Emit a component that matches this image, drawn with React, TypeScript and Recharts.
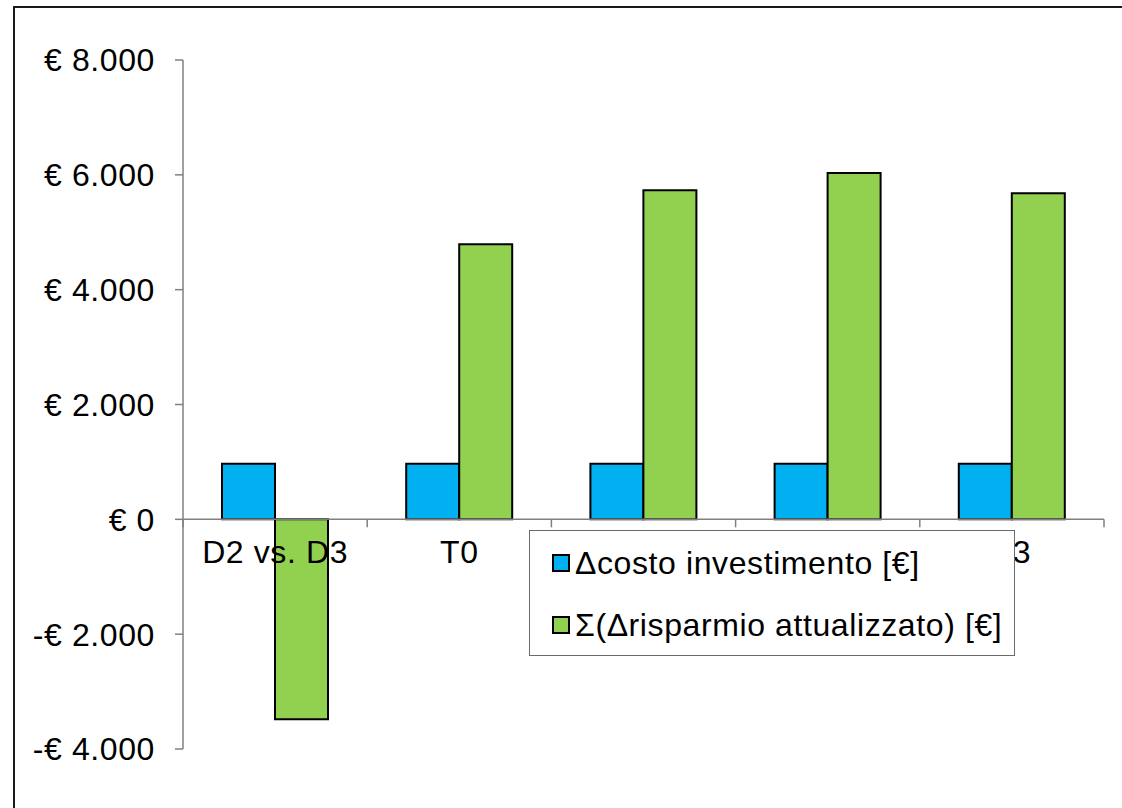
import { BarChart, Bar, XAxis, YAxis, ReferenceLine, Legend } from 'recharts';

const categories = ['D2 vs. D3', 'T0', 'T1', 'T2', 'T3'];
const costoInvestimento = [970, 970, 970, 970, 970];
const risparmioAttualizzato = [-3480, 4790, 5730, 6030, 5680];
const yTicks = [-4000, -2000, 0, 2000, 4000, 6000, 8000];

const seriesNames = ['\u0394costo investimento [\u20ac]', '\u03a3(\u0394risparmio attualizzato) [\u20ac]'];
const seriesColors = ['#00B0F0', '#92D050'];

const data = categories.map((name, i) => ({
  name,
  costo: costoInvestimento[i],
  risparmio: risparmioAttualizzato[i],
}));

const W = 1122;
const H = 808;
const M = { top: 60, right: 18, bottom: 58, left: 0 };
const Y_AXIS_W = 183;
const DOMAIN: [number, number] = [-4000, 8000];
const PLOT_H = H - M.top - M.bottom - 1;
const PLOT_W = W - M.left - M.right - Y_AXIS_W;
const BAND = PLOT_W / categories.length;
const ZERO_Y = M.top + (PLOT_H * DOMAIN[1]) / (DOMAIN[1] - DOMAIN[0]);

const FONT = '"Liberation Sans", Arial, sans-serif';
const FS = 32;
const LS = 0.6;

const fmtEuro = (v: number) => {
  const s = Math.abs(v).toString().replace(/\B(?=(\d{3})+(?!\d))/g, '.');
  return v < 0 ? `-\u20ac ${s}` : `\u20ac ${s}`;
};

const CategoryTick = (props: any) => {
  const { x, payload, index } = props;
  const last = index === categories.length - 1;
  return (
    <g>
      <line x1={x - BAND / 2} x2={x - BAND / 2} y1={ZERO_Y} y2={ZERO_Y + 8} stroke="#808080" strokeWidth={1.5} />
      {last && <line x1={x + BAND / 2} x2={x + BAND / 2} y1={ZERO_Y} y2={ZERO_Y + 8} stroke="#808080" strokeWidth={1.5} />}
      <text x={x} y={ZERO_Y + 44} textAnchor="middle" fontSize={FS} letterSpacing={LS} fontFamily={FONT} fill="#000">
        {payload.value}
      </text>
    </g>
  );
};

const LegendBox = () => (
  <div
    style={{
      width: 486,
      height: 126,
      border: '1.5px solid #6a6a6a',
      background: '#fff',
      boxSizing: 'border-box',
      fontFamily: FONT,
      fontSize: FS,
      letterSpacing: LS,
      color: '#000',
      paddingTop: 14,
      paddingLeft: 22,
    }}
  >
    {seriesNames.map((n, i) => (
      <div key={n} style={{ display: 'flex', alignItems: 'center', height: 36, marginBottom: i === 0 ? 26 : 0 }}>
        <span
          style={{
            display: 'inline-block',
            width: 14,
            height: 14,
            background: seriesColors[i],
            border: '2px solid #000',
            marginRight: 5,
          }}
        />
        <span style={{ whiteSpace: 'nowrap' }}>{n}</span>
      </div>
    ))}
  </div>
);

export default function App() {
  return (
    <div style={{ position: 'fixed', left: 0, top: 0, width: W, height: H, overflow: 'hidden', background: '#fff' }}>
      <div
        style={{
          position: 'absolute',
          left: 13,
          top: 6,
          width: 1300,
          height: 1000,
          border: '2px solid #1a1a1a',
        }}
      />
      <div style={{ position: 'absolute', left: 0, top: 0 }}>
        <BarChart width={W} height={H} data={data} margin={M} barGap={0} barSize={53}>
          <XAxis
            dataKey="name"
            axisLine={false}
            tickLine={false}
            height={1}
            tick={<CategoryTick />}
            interval={0}
          />
          <YAxis
            width={Y_AXIS_W}
            domain={DOMAIN}
            ticks={yTicks}
            interval={0}
            tickFormatter={fmtEuro}
            axisLine={{ stroke: '#808080', strokeWidth: 1.5 }}
            tickLine={{ stroke: '#808080', strokeWidth: 1.5 }}
            tickSize={8}
            tickMargin={20}
            tick={{ fontSize: FS, fontFamily: FONT, fill: '#000', letterSpacing: LS }}
          />
          <ReferenceLine y={0} stroke="#808080" strokeWidth={1.5} />
          <Bar dataKey="costo" name={seriesNames[0]} fill={seriesColors[0]} stroke="#000" strokeWidth={2} isAnimationActive={false} />
          <Bar dataKey="risparmio" name={seriesNames[1]} fill={seriesColors[1]} stroke="#000" strokeWidth={2} isAnimationActive={false} />
          <Legend
            layout="vertical"
            align="center"
            verticalAlign="middle"
            content={<LegendBox />}
            wrapperStyle={{ position: 'absolute', left: 529, top: 530, width: 486 }}
          />
        </BarChart>
      </div>
    </div>
  );
}
